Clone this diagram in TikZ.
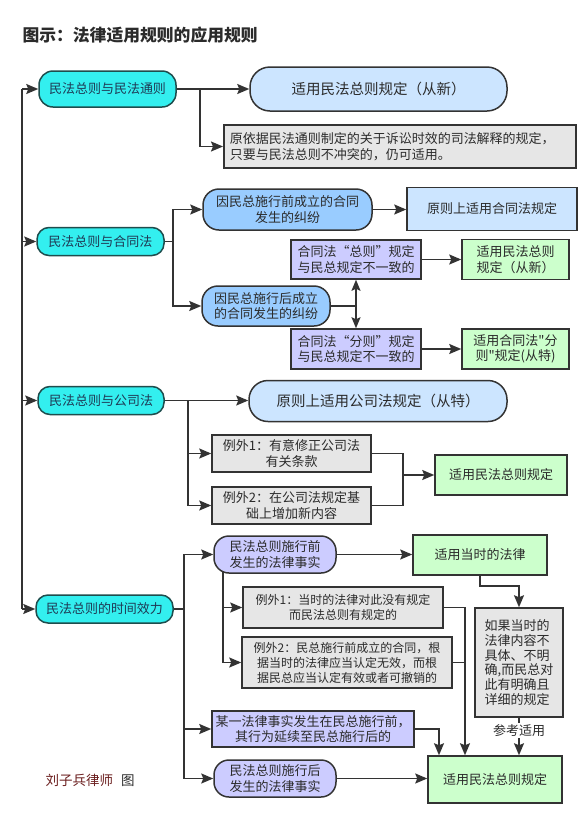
\documentclass[tikz,border=0pt]{standalone}
\usepackage{fontspec}
\newfontfamily\cjk{Noto Sans CJK SC}
\usetikzlibrary{arrows.meta,calc}
\definecolor{bc}{HTML}{333333}
\definecolor{tc}{HTML}{2B2B2B}
\definecolor{ctc}{HTML}{1F3A55}
\definecolor{cyanf}{HTML}{33EFEF}
\definecolor{cyanb}{HTML}{1E4D4D}
\definecolor{lblue}{HTML}{CCE5FF}
\definecolor{mblue}{HTML}{99CCFF}
\definecolor{purp}{HTML}{CCCCFF}
\definecolor{grayf}{HTML}{E6E6E6}
\definecolor{greenf}{HTML}{CCFFCC}
\definecolor{sigc}{HTML}{6B1E1E}
\tikzset{
  sz/.style 2 args={minimum width=#1pt, minimum height=#2pt},
  box/.style={draw=bc, line width=1.5pt, text=tc, font=\cjk\fontsize{13}{15.5}\selectfont, align=center, inner sep=0pt},
  mainbox/.style={box, draw=cyanb, fill=cyanf, text=ctc, rounded corners=12pt},
  lbround/.style={box, fill=lblue, rounded corners=19pt, font=\cjk\fontsize{14.5}{17}\selectfont},
  mbround/.style={box, fill=mblue, rounded corners=16pt},
  pround/.style={box, fill=purp, rounded corners=15pt},
  pbox/.style={box, fill=purp},
  gbox/.style={box, fill=grayf},
  exbox/.style={box, fill=grayf, font=\cjk\fontsize{12}{15}\selectfont},
  grbox/.style={box, fill=greenf},
  lbbox/.style={box, fill=lblue},
  ln/.style={draw=bc, line width=1.6pt},
  arr/.style={ln, -{Stealth[length=12pt,width=10pt,inset=2pt]}},
  darr/.style={ln, {Stealth[length=11pt,width=9pt,inset=2pt]}-{Stealth[length=11pt,width=9pt,inset=2pt]}},
}
\begin{document}
\begin{tikzpicture}[x=1pt,y=-1pt]
\useasboundingbox[fill=white] (0,0) rectangle (588,823);

\node[anchor=west, text=tc, font=\cjk\bfseries\fontsize{16.8}{18}\selectfont] (title) at (19,35) {图示：法律适用规则的应用规则};

% main nodes
\node[mainbox, sz={137}{36}, rounded corners=14pt] (A1) at (107.5,89) {民法总则与民法通则};
\node[mainbox, sz={127}{28}] (A2) at (100.5,241.5) {民法总则与合同法};
\node[mainbox, sz={126}{28}] (A3) at (101,400.5) {民法总则与公司法};
\node[mainbox, sz={137}{28}] (A4) at (104.5,609) {民法总则的时间效力};

% group 1
\node[lbround, sz={257}{44}, rounded corners=20pt] (B1) at (378.5,89) {适用民法总则规定（从新）};
\node[gbox, sz={352}{43}, align=left, anchor=west, text width=340pt, inner xsep=6pt] (C1) at (223,146.5) {原依据民法通则制定的关于诉讼时效的司法解释的规定，\\只要与民法总则不冲突的，仍可适用。};

% group 2
\node[mbround, sz={169}{41}] (B2a) at (287.5,209.5) {因民总施行前成立的合同\\发生的纠纷};
\node[lbbox, sz={170}{43}] (C2a) at (492,209) {原则上适用合同法规定};
\node[pbox, sz={130}{39}] (D2a) at (356,259.5) {合同法“总则”规定\\与民总规定不一致的};
\node[grbox, sz={107}{40}] (E2a) at (515.5,259.5) {适用民法总则\\规定（从新）};
\node[mbround, sz={128}{40}] (B2b) at (266,306) {因民总施行后成立\\的合同发生的纠纷};
\node[pbox, sz={130}{40}] (D2b) at (356,349) {合同法“分则”规定\\与民总规定不一致的};
\node[grbox, sz={107}{40}] (E2b) at (515.5,349) {适用合同法"分\\则"规定(从特)};

% group 3
\node[lbround, sz={258}{41}] (B3) at (378,401) {原则上适用公司法规定（从特）};
\node[gbox, sz={159}{37}] (C3a) at (291.5,453.5) {例外1：有意修正公司法\\有关条款};
\node[gbox, sz={159}{37}] (C3b) at (291.5,505.5) {例外2：在公司法规定基\\础上增加新内容};
\node[grbox, sz={132}{40}] (D3) at (501,475) {适用民法总则规定};

% group 4
\node[pround, sz={122}{37}] (B4a) at (275,554.5) {民法总则施行前\\发生的法律事实};
\node[grbox, sz={134}{40}] (C4) at (480,555) {适用当时的法律};
\node[exbox, sz={200}{41}] (Ex1) at (343,607.5) {例外1：当时的法律对此没有规定\\而民法总则有规定的};
\node[exbox, sz={210}{51}] (Ex2) at (347,662.5) {例外2：民总施行前成立的合同，根\\据当时的法律应当认定无效，而根\\据民总应当认定有效或者可撤销的};
\node[gbox, sz={88}{109}, align=left, font=\cjk\fontsize{13}{14.8}\selectfont] (F) at (519,662.5) {如果当时的\\法律内容不\\具体、不明\\确,而民总对\\此有明确且\\详细的规定};
\node[pbox, sz={202}{36}] (H) at (313,729) {某一法律事实发生在民总施行前，\\其行为延续至民总施行后的};
\node[pround, sz={122}{37}] (B4d) at (275,778.5) {民法总则施行后\\发生的法律事实};
\node[grbox, sz={134}{47}] (G) at (495,779.5) {适用民法总则规定};

\node[anchor=west, text=sigc, font=\cjk\fontsize{13.5}{15}\selectfont] (sig) at (42,780) {刘子兵律师\hspace{0.6em}\textcolor{tc}{图}};

% left spine
\coordinate (Ltop) at (22,89);
\coordinate (Lbot) at (22,609);
\draw[ln] (Ltop) -- (Lbot);
\draw[arr] (Ltop) -- (A1.west);
\draw[arr] (Ltop |- A2.west) -- (A2.west);
\draw[arr] (Ltop |- A3.west) -- (A3.west);
\draw[arr] (Lbot) -- (A4.west);

% group 1 connectors
\coordinate (j1) at (200,89);
\draw[arr] (A1.east) -- (B1.west);
\draw[arr] (j1) |- (C1.west);

% group 2 connectors
\coordinate (j2) at (173,241.5);
\draw[ln] (A2.east) -- (j2);
\draw[arr] (j2) |- (B2a.west);
\draw[arr] (j2) |- (B2b.west);
\draw[arr] (B2a.east) -- (B2a.east -| C2a.west);
\draw[ln] (B2b.east) -- (B2b.east -| D2a.south);
\draw[darr] (D2a.south) -- (D2b.north);
\draw[arr] (D2a.east) -- (E2a.west);
\draw[arr] (D2b.east) -- (E2b.west);

% group 3 connectors
\coordinate (j3) at (188,400.5);
\coordinate (m3) at (403,475);
\draw[arr] (A3.east) -- (A3.east -| B3.west);
\draw[arr] (j3) |- (C3a.west);
\draw[arr] (j3) |- (C3b.west);
\draw[ln] (C3a.east) -| (m3) |- (C3b.east);
\draw[arr] (m3) -- (D3.west);

% group 4 connectors
\coordinate (j4) at (184,609);
\draw[ln] (A4.east) -- (j4);
\draw[arr] (j4) |- (B4a.west);
\draw[arr] (j4) |- (H.west);
\draw[arr] (j4) |- (B4d.west);
\draw[arr] (B4a.east) -- (B4a.east -| C4.west);
\coordinate (k0) at (223,571);
\draw[arr] (k0) |- (Ex1.west);
\draw[arr] (k0) |- (Ex2.west);
\draw[arr] (C4.south) -- ++(0,10) -| (F.north);
\draw[arr] (F.south) -- (F.south |- G.north) node[pos=0.35, fill=white, inner sep=1.5pt, text=tc, font=\cjk\fontsize{13}{14}\selectfont] (lab) {参考适用};
\coordinate (gx1) at (465,0);
\coordinate (gx2) at (439,0);
\draw[arr] (Ex1.east) -| (gx1 |- G.north);
\draw[ln] (Ex2.east) -- (Ex2.east -| gx1);
\draw[arr] (H.east) -| (gx2 |- G.north);
\draw[arr] (B4d.east) -- (B4d.east -| G.west);
\end{tikzpicture}
\end{document}
